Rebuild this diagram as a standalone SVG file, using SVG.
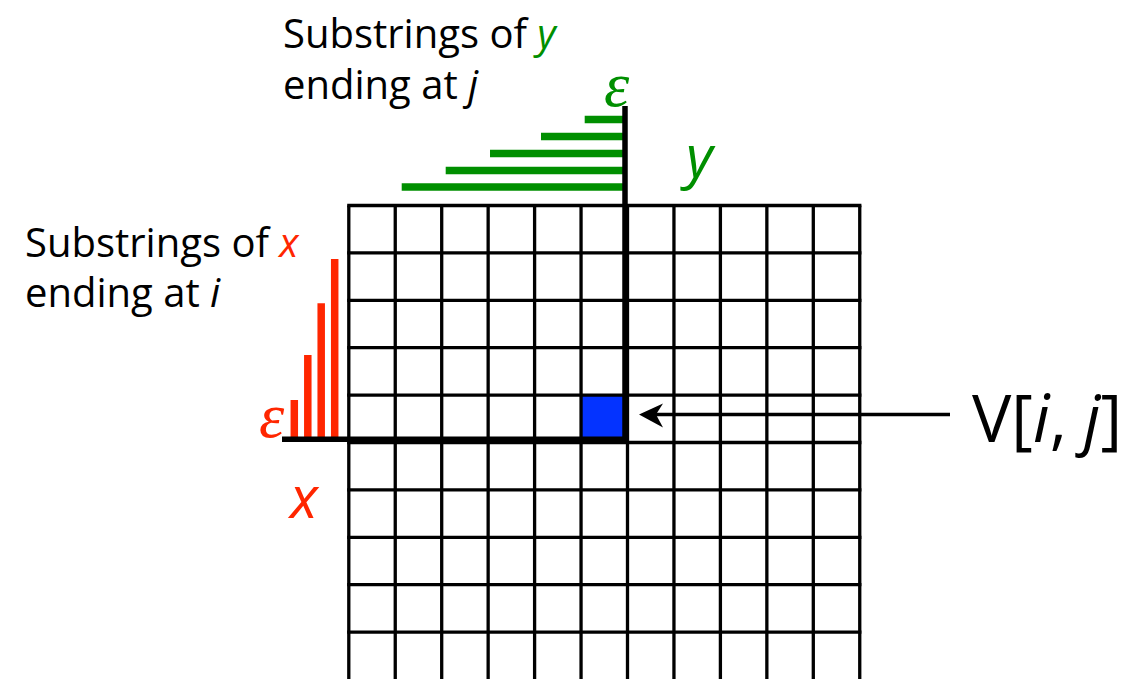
<svg xmlns="http://www.w3.org/2000/svg" width="1126" height="679" viewBox="0 0 1126 679">
<defs>
<style>
.lbl{font-family:"Open Sans","Liberation Sans",sans-serif;font-size:40px;fill:#000}
.it{font-style:italic}
.grn{fill:#008f00}
.red{fill:#ff2600}
.grid line{stroke:#000;stroke-width:3.3}
.thick{stroke:#000;stroke-width:5.5}
.gbar{stroke:#008f00;stroke-width:7.3}
.rbar{stroke:#ff2600;stroke-width:7.5}
.eps{font-family:"Liberation Serif",serif;font-style:italic;font-size:64px}
.var{font-family:"Open Sans","Liberation Sans",sans-serif;font-style:italic;font-size:58px}
</style>
</defs>
<rect width="1126" height="679" fill="#fff"/>
<g id="cell-ij">
<rect x="581" y="395" width="45" height="46" fill="#0433ff"/>
</g>
<g id="grid" class="grid">
<line x1="348.8" y1="205.5" x2="348.8" y2="679"/>
<line x1="395.25" y1="205.5" x2="395.25" y2="679"/>
<line x1="441.7" y1="205.5" x2="441.7" y2="679"/>
<line x1="488.15" y1="205.5" x2="488.15" y2="679"/>
<line x1="534.6" y1="205.5" x2="534.6" y2="679"/>
<line x1="581.05" y1="205.5" x2="581.05" y2="679"/>
<line x1="627.5" y1="205.5" x2="627.5" y2="679"/>
<line x1="673.95" y1="205.5" x2="673.95" y2="679"/>
<line x1="720.4" y1="205.5" x2="720.4" y2="679"/>
<line x1="766.85" y1="205.5" x2="766.85" y2="679"/>
<line x1="813.3" y1="205.5" x2="813.3" y2="679"/>
<line x1="859.75" y1="205.5" x2="859.75" y2="679"/>
<line x1="347.2" y1="205.5" x2="861.4" y2="205.5"/>
<line x1="347.2" y1="252.9" x2="861.4" y2="252.9"/>
<line x1="347.2" y1="300.3" x2="861.4" y2="300.3"/>
<line x1="347.2" y1="347.7" x2="861.4" y2="347.7"/>
<line x1="347.2" y1="395.1" x2="861.4" y2="395.1"/>
<line x1="347.2" y1="442.5" x2="861.4" y2="442.5"/>
<line x1="347.2" y1="489.9" x2="861.4" y2="489.9"/>
<line x1="347.2" y1="537.3" x2="861.4" y2="537.3"/>
<line x1="347.2" y1="584.7" x2="861.4" y2="584.7"/>
<line x1="347.2" y1="632.1" x2="861.4" y2="632.1"/>
</g>
<g id="y-substrings">
<line class="gbar" x1="584.7" y1="119.5" x2="623" y2="119.5"/>
<line class="gbar" x1="541" y1="136.5" x2="623" y2="136.5"/>
<line class="gbar" x1="490" y1="153.5" x2="623" y2="153.5"/>
<line class="gbar" x1="445.7" y1="170.5" x2="623" y2="170.5"/>
<line class="gbar" x1="401.7" y1="187" x2="623" y2="187"/>
<text class="eps grn" x="604" y="106">ε</text>
<text class="var grn" x="686" y="177">y</text>
</g>
<g id="x-substrings">
<line class="rbar" x1="294.3" y1="400" x2="294.3" y2="437"/>
<line class="rbar" x1="307.8" y1="355" x2="307.8" y2="437"/>
<line class="rbar" x1="321.2" y1="303.3" x2="321.2" y2="437"/>
<line class="rbar" x1="334.7" y1="259" x2="334.7" y2="437"/>
<text class="eps red" x="259" y="437">ε</text>
<text class="var red" x="290" y="518">x</text>
</g>
<g id="axes">
<line class="thick" x1="625" y1="106" x2="625" y2="442"/>
<line class="thick" x1="282" y1="439.3" x2="628" y2="439.3"/>
</g>
<g id="label-y">
<text class="lbl" x="283" y="48">Substrings of <tspan class="it grn">y</tspan><tspan x="283" y="99">ending at </tspan><tspan class="it">j</tspan></text>
</g>
<g id="label-x">
<text class="lbl" x="25" y="256.5">Substrings of <tspan class="it red">x</tspan><tspan x="25" y="307">ending at </tspan><tspan class="it">i</tspan></text>
</g>
<g id="connectors">
<line x1="950" y1="414.5" x2="656" y2="414.5" stroke="#000" stroke-width="3.3"/>
<path d="M639,414.5 L663,403.5 L656,414.5 L663,427.5 Z" fill="#000"/>
</g>
<g id="label-v">
<text x="972" y="441.5" font-family="Open Sans, Liberation Sans, sans-serif" font-size="66" fill="#000">V[<tspan font-style="italic">i</tspan>, <tspan font-style="italic">j</tspan>]</text>
</g>
</svg>
